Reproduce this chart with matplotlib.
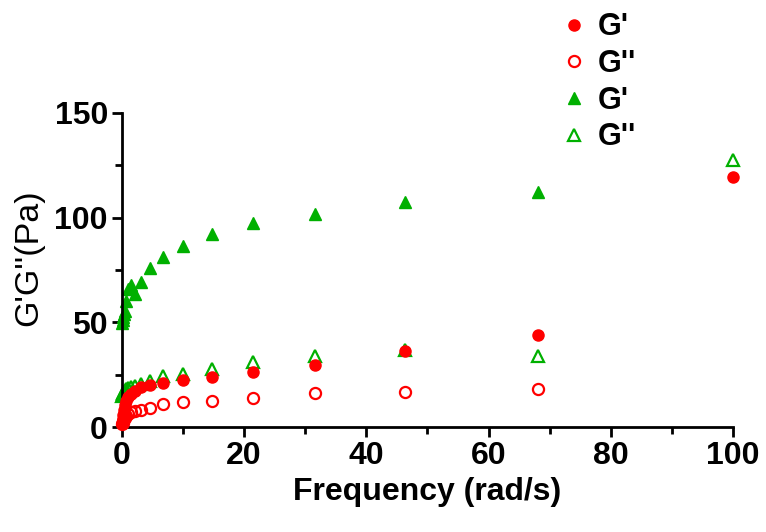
import matplotlib
matplotlib.use("Agg")
import matplotlib.pyplot as plt
import numpy as np

# frequency (rad/s), 6 points per decade
freq = [0.1, 0.147, 0.215, 0.316, 0.464, 0.681, 1.0, 1.47, 2.15, 3.16,
        4.64, 6.81, 10.0, 14.7, 21.5, 31.6, 46.4, 68.1, 100.0]

# red series
red_g1 = [2, 4, 6, 8, 10.5, 12.5, 14.5, 16, 17.5, 19,
          20, 21, 22.4, 24, 26.3, 29.8, 36.2, 44, 119.6]
red_g2 = [1.5, 2.2, 3, 3.8, 4.6, 5.5, 6.3, 7.2, 7.7, 8.3,
          9.3, 11, 12, 12.4, 13.7, 16.5, 17, 18.2, np.nan]

# green series
green_g1 = [49.5, 51, 52.5, 54, 55.5, 60, 66, 68, 63.5, 69.5,
            76, 81, 86.5, 92, 97.5, 101.5, 107.3, 112, np.nan]
green_g2 = [15, 16, 16.5, 17, 17.5, 18, 18.5, 19, 19.5, 20.5,
            22, 24.5, 25.5, 28, 31, 34, 37, 34, 127.6]

labels = ["G'", "G''", "G'", "G''"]

RED = "#FF0000"
GREEN = "#00B000"

plt.rcParams['font.family'] = ['Liberation Sans', 'DejaVu Sans']

fig = plt.figure(figsize=(7.66, 5.32), dpi=100)
ax = fig.add_axes([0.159, 0.197, 0.798, 0.591])

ms = 8
ax.plot(freq, red_g1, 'o', color=RED, ms=ms, label=labels[0], clip_on=False, zorder=3)
ax.plot(freq, red_g2, 'o', mfc='none', mec=RED, mew=1.6, ms=ms, label=labels[1], clip_on=False, zorder=3)
ax.plot(freq, green_g1, '^', color=GREEN, ms=ms + 1, label=labels[2], clip_on=False, zorder=2)
ax.plot(freq, green_g2, '^', mfc='none', mec=GREEN, mew=1.6, ms=ms + 1, label=labels[3], clip_on=False, zorder=2)

ax.set_xlim(0, 100)
ax.set_ylim(0, 150)
ax.set_xticks([0, 20, 40, 60, 80, 100])
ax.set_xticks([10, 30, 50, 70, 90], minor=True)
ax.set_yticks([0, 50, 100, 150])
ax.set_yticks([25, 75, 125], minor=True)

for side in ['top', 'right']:
    ax.spines[side].set_visible(False)
for side in ['left', 'bottom']:
    ax.spines[side].set_linewidth(2)

ax.tick_params(which='major', length=7, width=2, labelsize=23, pad=3)
ax.tick_params(which='minor', length=5, width=2)
for lab in ax.get_xticklabels() + ax.get_yticklabels():
    lab.set_fontweight('bold')

ax.set_xlabel("Frequency (rad/s)", fontsize=23, fontweight='bold', labelpad=4)
fig.text(29 / 766, 1 - 258 / 532, "G'G''(Pa)", fontsize=24.5, rotation=90,
         ha='center', va='center')

leg = ax.legend(loc='upper left', bbox_to_anchor=(0.713, 1.0), bbox_transform=fig.transFigure,
                frameon=False, fontsize=22, handletextpad=0.3, labelspacing=0.22,
                handlelength=1.0, borderaxespad=0.0)
for t in leg.get_texts():
    t.set_fontweight('bold')

fig.savefig("out.png", dpi=100)
